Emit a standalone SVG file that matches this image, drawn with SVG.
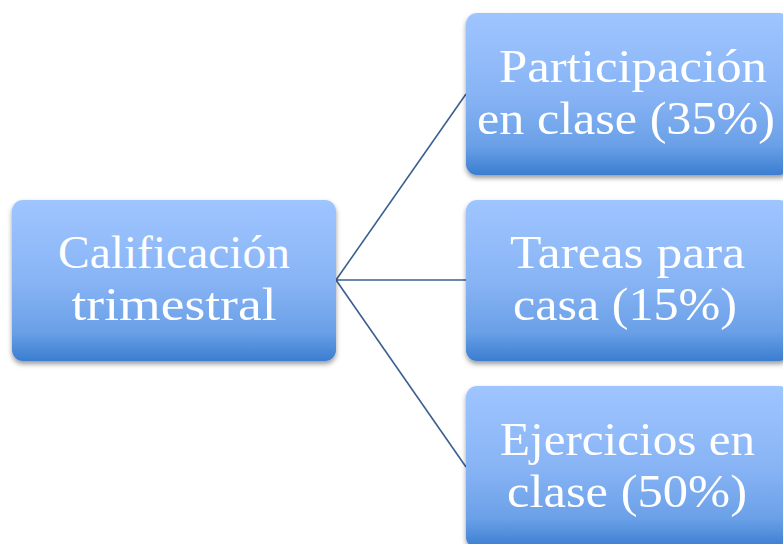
<svg xmlns="http://www.w3.org/2000/svg" width="783" height="544" viewBox="0 0 783 544">
<defs>
<linearGradient id="g" x1="0" y1="0" x2="0" y2="1">
<stop offset="0" stop-color="#9fc5ff"/>
<stop offset="0.5" stop-color="#88b4f5"/>
<stop offset="0.82" stop-color="#6aa0e7"/>
<stop offset="1" stop-color="#3b7dd0"/>
</linearGradient>
<filter id="sh" x="-10%" y="-10%" width="120%" height="130%">
<feDropShadow dx="0" dy="3" stdDeviation="2.5" flood-color="#000" flood-opacity="0.4"/>
</filter>
</defs>
<style>
.box{fill:url(#g);filter:url(#sh);}
.t{font-family:"Liberation Serif","DejaVu Serif",serif;font-size:47px;fill:#fff;text-anchor:middle;}
.c{stroke:#3b5f8f;stroke-width:1.6;fill:none;}
</style>
<rect width="783" height="544" fill="#fff"/>
<g id="connectors">
<line class="c" x1="336" y1="280" x2="466" y2="94"/>
<line class="c" x1="336" y1="280" x2="466" y2="280"/>
<line class="c" x1="336" y1="280" x2="466" y2="467"/>
</g>
<g id="node-calificacion">
<rect class="box" x="12" y="200" width="324" height="161" rx="11"/>
<text class="t" x="174" y="268" textLength="232" lengthAdjust="spacingAndGlyphs">Calificación</text>
<text class="t" x="174" y="320" textLength="205" lengthAdjust="spacingAndGlyphs">trimestral</text>
</g>
<g id="node-participacion">
<rect class="box" x="466" y="13" width="324" height="162" rx="11"/>
<text class="t" x="633" y="82" textLength="268" lengthAdjust="spacingAndGlyphs">Participación</text>
<text class="t" x="626" y="134" textLength="298" lengthAdjust="spacingAndGlyphs">en clase (35%)</text>
</g>
<g id="node-tareas">
<rect class="box" x="466" y="200" width="324" height="161" rx="11"/>
<text class="t" x="627.5" y="268" textLength="235" lengthAdjust="spacingAndGlyphs">Tareas para</text>
<text class="t" x="625" y="320" textLength="224" lengthAdjust="spacingAndGlyphs">casa (15%)</text>
</g>
<g id="node-ejercicios">
<rect class="box" x="466" y="386" width="324" height="162" rx="11"/>
<text class="t" x="627.5" y="455" textLength="255" lengthAdjust="spacingAndGlyphs">Ejercicios en</text>
<text class="t" x="627" y="507" textLength="240" lengthAdjust="spacingAndGlyphs">clase (50%)</text>
</g>
</svg>
